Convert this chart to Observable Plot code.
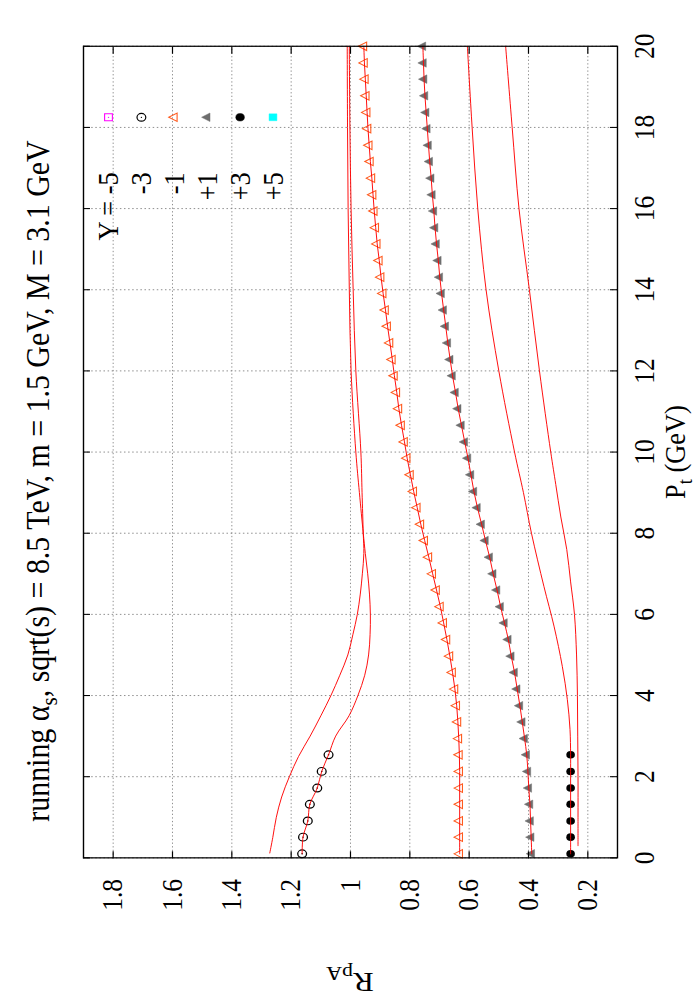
<!DOCTYPE html>
<html><head><meta charset="utf-8">
<script src="https://cdn.jsdelivr.net/npm/d3@7"></script>
<script src="https://cdn.jsdelivr.net/npm/@observablehq/plot@0.6"></script>
<style>
html,body{margin:0;padding:0;width:700px;height:1000px;overflow:hidden;background:#fff;}
#page{position:absolute;left:0;top:0;height:700px;transform-origin:0 0;background:#fff;}
</style></head>
<body><div id="page"></div>
<script>
// ---------- data ----------
const ptTicks = [0, 2, 4, 6, 8, 10, 12, 14, 16, 18, 20];
const rTicks = [0.2, 0.4, 0.6, 0.8, 1, 1.2, 1.4, 1.6, 1.8];

// Pt values of the dense point series (Y = -1, +1)
const ptDense = [0.1, 0.51, 0.91, 1.32, 1.72, 2.13, 2.54, 2.94, 3.35, 3.75, 4.16, 4.57, 4.97, 5.38, 5.79, 6.19, 6.6, 7.0, 7.41, 7.82,
  8.22, 8.63, 9.03, 9.44, 9.85, 10.25, 10.66, 11.07, 11.47, 11.88, 12.28, 12.69, 13.1, 13.5, 13.91, 14.31, 14.72, 15.13, 15.53, 15.94,
  16.34, 16.75, 17.16, 17.56, 17.97, 18.37, 18.78, 19.19, 19.59, 20.0];
const rYm1 = [0.632, 0.632, 0.632, 0.632, 0.632, 0.632, 0.633, 0.635, 0.638, 0.642, 0.648, 0.656, 0.665, 0.675, 0.686, 0.697, 0.710, 0.723, 0.736, 0.750,
  0.763, 0.775, 0.787, 0.798, 0.809, 0.818, 0.828, 0.837, 0.844, 0.852, 0.859, 0.867, 0.875, 0.882, 0.890, 0.897, 0.903, 0.910, 0.915, 0.920,
  0.924, 0.928, 0.933, 0.937, 0.941, 0.944, 0.947, 0.950, 0.953, 0.955];
const rYp1 = [0.389, 0.391, 0.393, 0.395, 0.399, 0.402, 0.406, 0.413, 0.421, 0.429, 0.438, 0.447, 0.458, 0.468, 0.481, 0.494, 0.506, 0.519, 0.531, 0.545,
  0.558, 0.572, 0.584, 0.594, 0.604, 0.615, 0.626, 0.637, 0.646, 0.656, 0.664, 0.672, 0.679, 0.686, 0.693, 0.699, 0.704, 0.710, 0.715, 0.719,
  0.724, 0.728, 0.733, 0.737, 0.741, 0.745, 0.749, 0.752, 0.754, 0.756];

// low-Pt point series (Y = -3, +3)
const ptLow = [0.1, 0.51, 0.91, 1.32, 1.72, 2.13, 2.54];
const rYm3 = [1.163, 1.160, 1.144, 1.137, 1.112, 1.097, 1.074];
const rYp3 = [0.258, 0.258, 0.258, 0.258, 0.258, 0.258, 0.258];

// red curves
const ptCm5 = [0.12, 0.5, 1.0, 1.5, 2.0, 2.5, 3.0, 3.5, 4.0, 4.5, 5.0, 5.5, 6.0, 6.5, 7.0, 7.5, 8.0, 9.0, 10, 12, 14, 16, 18, 20];
const rCm5 = [1.272, 1.262, 1.250, 1.232, 1.206, 1.175, 1.136, 1.100, 1.066, 1.036, 1.009, 0.992, 0.977, 0.967, 0.960, 0.955, 0.957, 0.961, 0.965, 0.982, 0.991, 0.998, 1.002, 1.004];
const ptCm3 = [0.1, 0.51, 0.91, 1.32, 1.72, 2.13, 2.54, 3.0, 3.5, 4.0, 4.5, 5.0, 5.5, 6.0, 6.5, 7.0, 7.5, 8.0, 9.0, 10, 12, 14, 16, 18, 20];
const rCm3 = [1.163, 1.160, 1.144, 1.137, 1.112, 1.097, 1.074, 1.050, 1.005, 0.975, 0.952, 0.939, 0.934, 0.933, 0.936, 0.942, 0.950, 0.957, 0.970, 0.982, 0.998, 1.004, 1.008, 1.010, 1.011];
const ptCp3 = [0.1, 0.51, 0.91, 1.32, 1.72, 2.13, 2.54, 3.16, 3.9, 4.72, 5.71, 6.69, 8.0, 9.0, 10, 12, 14, 16, 18, 20];
const rCp3 = [0.258, 0.258, 0.258, 0.258, 0.258, 0.258, 0.258, 0.260, 0.269, 0.286, 0.314, 0.348, 0.390, 0.417, 0.447, 0.500, 0.543, 0.571, 0.590, 0.606];
const ptCp5 = [0.3, 1.0, 2.0, 3.0, 4.0, 5.0, 6.0, 6.8, 7.6, 8.4, 9.2, 10, 12, 14, 16, 18, 20];
const rCp5 = [0.233, 0.233, 0.233, 0.234, 0.235, 0.238, 0.245, 0.258, 0.271, 0.291, 0.308, 0.325, 0.363, 0.397, 0.432, 0.455, 0.477];

const legendLabels = ["Y = -5", "-3", "-1", "+1", "+3", "+5"];
const titleMain = "running α";
const titleSub = "s";
const titleRest = ", sqrt(s) = 8.5 TeV, m = 1.5 GeV, M = 3.1 GeV";

// ---------- layout / style ----------
// The landscape figure is drawn at width 1000/SX and squeezed horizontally by SX,
// then turned a quarter turn counter-clockwise (as in the reference page).
const SX = 0.88;
const W = 1000 / SX, H = 700;
const mL = 141.7 / SX, mR = 46.7 / SX, mT = 83, mB = 83;
const fw = W - mL - mR, fh = H - mT - mB;
const FONT = "'Liberation Serif', 'Times New Roman', Times, serif";
const RED = "#ff0000", ORANGE = "#ff5a1e", GRAY = "#6e6e6e";
const tab = (xs, ys) => xs.map((x, i) => ({pt: x, r: ys[i]}));
const gridStyle = {stroke: "#7a7a7a", strokeOpacity: 1, strokeWidth: 0.9, strokeDasharray: "1.5,2.6"};
const lineStyle = {x: "pt", y: "r", stroke: RED, strokeWidth: 1, curve: "catmull-rom"};
const TRI_R = 3.6;

const legendStyles = [
  {symbol: "square", r: 4.4, fill: "none", stroke: "#ff00ff", strokeWidth: 1.1, centerDot: "#ff00ff"},
  {symbol: "circle", r: 4.4, fill: "none", stroke: "black", strokeWidth: 1.2, centerDot: "black"},
  {symbol: "triangle", r: TRI_R, fill: "none", stroke: ORANGE, strokeWidth: 1.1},
  {symbol: "triangle", r: TRI_R, fill: GRAY, stroke: GRAY, strokeWidth: 0.5},
  {symbol: "circle", r: 4.3, fill: "black", stroke: "black", strokeWidth: 0.5},
  {symbol: "square", r: 4.4, fill: "#00ffff", stroke: "#00ffff", strokeWidth: 0.5}
];

const marks = [
  Plot.gridX(ptTicks, gridStyle),
  Plot.gridY(rTicks, gridStyle),
  // point series
  Plot.dot(tab(ptDense, rYm1), {x: "pt", y: "r", symbol: "triangle", r: TRI_R, fill: "none", stroke: ORANGE, strokeWidth: 1.1}),
  Plot.dot(tab(ptDense, rYp1), {x: "pt", y: "r", symbol: "triangle", r: TRI_R, fill: GRAY, stroke: GRAY, strokeWidth: 0.5}),
  Plot.dot(tab(ptLow, rYm3), {x: "pt", y: "r", symbol: "circle", r: 4.4, fill: "none", stroke: "black", strokeWidth: 1.3}),
  Plot.dot(tab(ptLow, rYm3), {x: "pt", y: "r", r: 0.8, fill: "black"}),
  Plot.dot(tab(ptLow, rYp3), {x: "pt", y: "r", symbol: "circle", r: 4.3, fill: "black"}),
  // red curves
  Plot.line(tab(ptCm5, rCm5), lineStyle),
  Plot.line(tab(ptCm3, rCm3), lineStyle),
  Plot.line(tab(ptDense, rYm1), lineStyle),
  Plot.line(tab(ptDense, rYp1), lineStyle),
  Plot.line(tab(ptCp3, rCp3), lineStyle),
  Plot.line(tab(ptCp5, rCp5), lineStyle),
  // inward ticks on all four sides
  Plot.tickX(ptTicks, {x: d => d, insetTop: fh - 7, stroke: "black", strokeWidth: 1.2}),
  Plot.tickX(ptTicks, {x: d => d, insetBottom: fh - 7, stroke: "black", strokeWidth: 1.2}),
  Plot.tickY(rTicks, {y: d => d, insetRight: fw - 8, stroke: "black", strokeWidth: 1.2}),
  Plot.tickY(rTicks, {y: d => d, insetLeft: fw - 8, stroke: "black", strokeWidth: 1.2}),
  Plot.axisX(ptTicks, {anchor: "bottom", tickSize: 0, tickPadding: 16, fontSize: 29, fontFamily: FONT, label: null, tickFormat: d => String(d), fill: "black"}),
  Plot.axisY(rTicks, {anchor: "left", tickSize: 0, tickPadding: 24, fontSize: 29, fontFamily: FONT, label: null, tickFormat: d => String(d), fill: "black"}),
  Plot.frame({stroke: "black", strokeWidth: 1.4})
];

// key (top-right inside the frame)
legendLabels.forEach((lab, i) => {
  const dy = 25 + 32.9 * i;
  const st = legendStyles[i];
  marks.push(Plot.text([lab], {frameAnchor: "top-right", dx: -126 / SX, dy, text: d => d, textAnchor: "end", lineAnchor: "middle", fontSize: 30, fontFamily: FONT, fill: "black"}));
  marks.push(Plot.dot([lab], {frameAnchor: "top-right", dx: -71 / SX, dy, symbol: st.symbol, r: st.r, fill: st.fill, stroke: st.stroke, strokeWidth: st.strokeWidth}));
  if (st.centerDot) marks.push(Plot.dot([lab], {frameAnchor: "top-right", dx: -71 / SX, dy, r: 0.7, fill: st.centerDot}));
});

const svg = Plot.plot({
  width: W, height: H,
  marginLeft: mL, marginRight: mR, marginTop: mT, marginBottom: mB,
  x: {domain: [0, 20]},
  y: {domain: [0.1, 1.9]},
  style: {fontFamily: FONT, fontSize: "29px", background: "white", color: "black", overflow: "visible", maxWidth: "none"},
  marks
});

const s = d3.select(svg).attr("font-family", FONT);
// title
const t = s.append("text").attr("x", 519 / SX).attr("y", 49).attr("text-anchor", "middle")
  .style("font-size", "34px").style("font-family", FONT).attr("fill", "black");
t.append("tspan").text(titleMain);
t.append("tspan").attr("dy", 8).style("font-size", "24px").text(titleSub);
t.append("tspan").attr("dy", -8).text(titleRest);
// x label
const xl = s.append("text").attr("x", 548 / SX).attr("y", 685).attr("text-anchor", "middle")
  .style("font-size", "30px").style("font-family", FONT).attr("fill", "black");
xl.append("tspan").text("P");
xl.append("tspan").attr("dy", 7).style("font-size", "21px").text("t");
xl.append("tspan").attr("dy", -7).text(" (GeV)");
// y label
const yl = s.append("text").attr("transform", `translate(${27 / SX},350) rotate(-90)`).attr("text-anchor", "middle")
  .style("font-size", "31px").style("font-family", FONT).attr("fill", "black");
yl.append("tspan").text("R");
yl.append("tspan").attr("dy", 7).style("font-size", "22px").text("pA");

const page = document.getElementById("page");
page.style.width = W + "px";
page.style.transform = `translate(0px,1000px) rotate(-90deg) scale(${SX},1)`;
page.appendChild(svg);
</script></body></html>
